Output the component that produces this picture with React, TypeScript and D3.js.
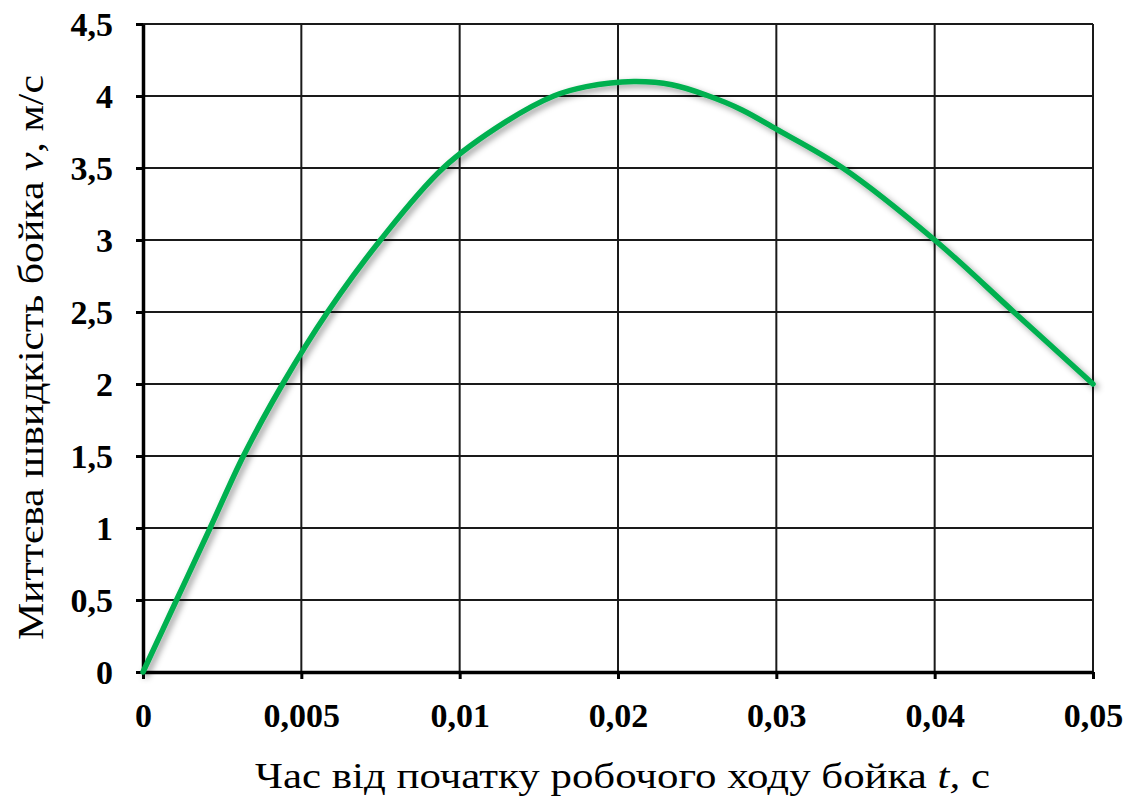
import React, { useRef, useEffect } from 'react';
import * as d3 from 'd3';

// tick positions on the time axis (the gridlines are evenly spaced in the original)
const xTicks = [0, 0.005, 0.01, 0.02, 0.03, 0.04, 0.05];
const xTickLabels = ['0', '0,005', '0,01', '0,02', '0,03', '0,04', '0,05'];
const yTicks = [0, 0.5, 1, 1.5, 2, 2.5, 3, 3.5, 4, 4.5];
const yTickLabels = ['0', '0,5', '1', '1,5', '2', '2,5', '3', '3,5', '4', '4,5'];

// time t, s
const time = [0, 0.00106, 0.00212, 0.00317, 0.00441, 0.00583, 0.0075, 0.00948, 0.0129,
  0.01594, 0.018, 0.021, 0.0234, 0.0256, 0.0278, 0.03, 0.0342, 0.04, 0.045, 0.05];
// velocity v, m/s
const velocity = [0, 0.5, 1.0, 1.5, 2.0, 2.5, 3.0, 3.5, 3.82,
  4.0, 4.065, 4.1, 4.078, 4.005, 3.905, 3.77, 3.5, 3.0, 2.5, 2.0];

const App = () => {
  const svgRef = useRef(null);

  useEffect(() => {
    const W = 1131;
    const H = 799;
    const margin = { top: 24, right: 38, bottom: 127, left: 143 };
    const width = W - margin.left - margin.right;
    const height = H - margin.top - margin.bottom;
    const font = '"Liberation Serif", "Times New Roman", serif';

    const svg = d3.select(svgRef.current);
    svg.selectAll('*').remove();
    svg.attr('width', W).attr('height', H);

    const defs = svg.append('defs');
    const f = defs.append('filter').attr('id', 'shadow')
      .attr('x', '-10%').attr('y', '-10%').attr('width', '120%').attr('height', '120%');
    f.append('feDropShadow')
      .attr('dx', 3).attr('dy', 3).attr('stdDeviation', 3)
      .attr('flood-color', '#000').attr('flood-opacity', 0.4);

    const g = svg.append('g').attr('transform', `translate(${margin.left},${margin.top})`);

    // polylinear scale so that the ticks fall on evenly spaced gridlines
    const xScale = d3.scaleLinear()
      .domain(xTicks)
      .range(xTicks.map((_, i) => (i * width) / (xTicks.length - 1)));

    const yScale = d3.scaleLinear().domain([0, 4.5]).range([height, 0]);

    // gridlines
    g.append('g')
      .selectAll('line')
      .data(yTicks.slice(1))
      .join('line')
      .attr('x1', 0).attr('x2', width)
      .attr('y1', d => yScale(d)).attr('y2', d => yScale(d))
      .attr('stroke', '#1a1a1a').attr('stroke-width', 2);

    g.append('g')
      .selectAll('line')
      .data(xTicks.slice(1))
      .join('line')
      .attr('x1', d => xScale(d)).attr('x2', d => xScale(d))
      .attr('y1', 0).attr('y2', height)
      .attr('stroke', '#1a1a1a').attr('stroke-width', 2);

    // axes
    const xAxis = g.append('g')
      .attr('transform', `translate(0,${height})`)
      .call(d3.axisBottom(xScale).tickValues(xTicks).tickSize(7).tickSizeOuter(0)
        .tickFormat((_, i) => xTickLabels[i]));
    xAxis.select('.domain').attr('stroke', '#000').attr('stroke-width', 3.5);
    xAxis.selectAll('.tick line').attr('stroke', '#000').attr('stroke-width', 3);
    xAxis.selectAll('text')
      .attr('y', 55)
      .attr('dy', 0)
      .style('font-family', font)
      .style('font-weight', 'bold')
      .style('font-size', '34px')
      .attr('fill', '#000');

    const yAxis = g.append('g')
      .call(d3.axisLeft(yScale).tickValues(yTicks).tickSize(7).tickSizeOuter(0)
        .tickFormat((_, i) => yTickLabels[i]));
    yAxis.select('.domain').attr('stroke', '#000').attr('stroke-width', 3.5);
    yAxis.selectAll('.tick line').attr('stroke', '#000').attr('stroke-width', 3);
    yAxis.selectAll('text')
      .attr('x', -30)
      .attr('dy', '0.35em')
      .style('font-family', font)
      .style('font-weight', 'bold')
      .style('font-size', '34px')
      .attr('fill', '#000');

    // the velocity curve
    const line = d3.line()
      .x((_, i) => xScale(time[i]))
      .y(d => yScale(d))
      .curve(d3.curveCatmullRom.alpha(0.5));

    g.append('path')
      .datum(velocity)
      .attr('fill', 'none')
      .attr('stroke', '#00b050')
      .attr('stroke-width', 5.5)
      .attr('stroke-linecap', 'round')
      .attr('filter', 'url(#shadow)')
      .attr('d', line);

    // X-axis label
    const xl = svg.append('text')
      .attr('x', 255)
      .attr('y', 788)
      .attr('textLength', 735)
      .attr('lengthAdjust', 'spacingAndGlyphs')
      .style('font-family', font)
      .style('font-size', '35px')
      .attr('fill', '#000');
    xl.append('tspan').text('Час від початку робочого ходу бойка ');
    xl.append('tspan').style('font-style', 'italic').text('t,');
    xl.append('tspan').text(' с');

    // Y-axis label
    const yl = svg.append('text')
      .attr('transform', `translate(43,640) rotate(-90)`)
      .attr('textLength', 565)
      .attr('lengthAdjust', 'spacingAndGlyphs')
      .style('font-family', font)
      .style('font-size', '35px')
      .attr('fill', '#000');
    yl.append('tspan').text('Миттєва швидкість бойка ');
    yl.append('tspan').style('font-style', 'italic').text('v');
    yl.append('tspan').text(', м/с');
  }, []);

  return (
    <svg ref={svgRef} style={{ position: 'absolute', left: 0, top: 0, background: '#fff' }}></svg>
  );
};

export default App;
